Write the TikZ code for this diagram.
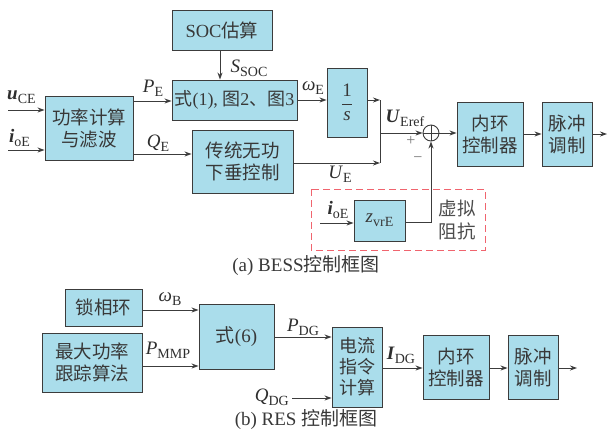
\documentclass[tikz,border=0pt]{standalone}
\usepackage{fontspec}
\setmainfont{Liberation Serif}
\newfontfamily\cjk{Noto Sans CJK SC}
\usetikzlibrary{arrows.meta}
\newcommand\zh[1]{{\cjk #1}}
\newcommand\subtx[1]{\raisebox{-4pt}{\fontsize{14}{14}\selectfont\upshape\mdseries #1}}
\newcommand\vv[2]{\textit{#1}\subtx{#2}}
\newcommand\bv[2]{\textbf{\textit{#1}}\subtx{#2}}
\definecolor{boxfill}{RGB}{170,221,235}
\definecolor{linec}{RGB}{60,60,60}
\definecolor{dashred}{RGB}{240,100,110}
\tikzset{
  blk/.style={draw=linec, line width=0.9pt, fill=boxfill, inner sep=0pt, align=center, font=\fontsize{18.5}{22}\selectfont, text=black!78},
  conn/.style={draw=linec, line width=0.9pt},
  arr/.style={conn, -{Stealth[length=7pt,width=5pt]}},
  lbl/.style={font=\fontsize{19}{22}\selectfont, text=black!82, inner sep=0pt},
  captxt/.style={font=\fontsize{19}{22}\selectfont, text=black!78, inner sep=0pt}
}
\begin{document}
\begin{tikzpicture}[x=1pt,y=-1pt]
\useasboundingbox (0,0) rectangle (609,432);
% top diagram
\node[blk, minimum width=100pt, minimum height=40pt] (soc) at (222,30) {SOC\zh{估算}};
\node[blk, minimum width=125pt, minimum height=40pt, font=\fontsize{18}{22}\selectfont] (eq1) at (234.5,100) {\zh{式}(1), \zh{图}2\zh{、图}3};
\node[blk, minimum width=88pt, minimum height=64pt] (pc) at (89,128) {\zh{功率计算}\\\zh{与滤波}};
\node[blk, minimum width=101pt, minimum height=63pt] (trad) at (242.5,161.5) {\zh{传统无功}\\\zh{下垂控制}};
\node[blk, minimum width=40pt, minimum height=69pt, font=\fontsize{19}{22}\selectfont] (invs) at (347,102.5) {$\displaystyle\frac{\mbox{1}}{\mbox{\itshape s}}$};
\node[draw=linec, line width=0.9pt, fill=white, circle, minimum size=16pt, inner sep=0pt] (sum) at (431,133) {};
\draw[conn] (sum.north) -- (sum.south) (sum.west) -- (sum.east);
\node[blk, minimum width=66pt, minimum height=64pt] (in1) at (490,134) {\zh{内环}\\\zh{控制器}};
\node[blk, minimum width=50pt, minimum height=64pt] (pw1) at (567,134) {\zh{脉冲}\\\zh{调制}};
\node[blk, minimum width=51pt, minimum height=41pt, font=\fontsize{19}{22}\selectfont] (zvr) at (379.5,220.5) {\vv{z}{vrE}};
\draw[dashred, line width=1pt, dash pattern=on 7pt off 4pt] (311,189) rectangle (485,250);
\node[lbl, align=center, font=\fontsize{18.5}{23}\selectfont, text=black!70] (vimp) at (457,220.5) {\zh{虚拟}\\\zh{阻抗}};

\coordinate (uin) at (8,110);
\coordinate (iin) at (8,150);
\draw[arr] (uin) -- (uin -| pc.west);
\draw[arr] (iin) -- (iin -| pc.west);
\coordinate (pe) at (pc.east |- 0,101);
\draw[arr] (pe) -- (pe -| eq1.west);
\coordinate (qe) at (pc.east |- 0,154);
\draw[arr] (qe) -- (qe -| trad.west);
\coordinate (ss) at (220,0);
\draw[arr] (ss |- soc.south) -- (ss |- eq1.north);
\draw[arr] (eq1.east |- 0,100) -- (invs.west |- 0,100);
\coordinate (jt) at (380,100);
\coordinate (jb) at (380,163);
\coordinate (jm) at (380,133);
\draw[arr] (invs.east |- jt) -- (jt);
\draw[arr] (trad.east |- jb) -- (jb);
\draw[conn] (jt) -- (jb);
\draw[arr] (jm) -- (sum.west);
\draw[arr] (sum.east) -- (sum.east -| in1.west);
\draw[arr] (in1.east) -- (pw1.west);
\coordinate (out1) at (607,134);
\draw[arr] (pw1.east) -- (out1);
\coordinate (zc) at (431,222);
\draw[arr] (zvr.east |- zc) -- (zc) -- (sum.south);
\coordinate (zin) at (320,223);
\draw[arr] (zin) -- (zin -| zvr.west);

\node[lbl, anchor=west] (luce) at (7,97) {\bv{u}{CE}};
\node[lbl, anchor=west] (lioe) at (9,138) {\bv{i}{oE}};
\node[lbl] (lpe) at (153,88) {\vv{P}{E}};
\node[lbl] (lqe) at (158,143) {\vv{Q}{E}};
\node[lbl] (lss) at (249,68) {\vv{S}{SOC}};
\node[lbl] (lwe) at (313,88) {\vv{ω}{E}};
\node[lbl] (luer) at (405,118) {\bv{U}{Eref}};
\node[lbl, font=\fontsize{16}{18}\selectfont, text=black!55] (lplus) at (411,141) {+};
\node[lbl, font=\fontsize{16}{18}\selectfont, text=black!55] (lminus) at (418,160) {−};
\node[lbl] (lue) at (340,174) {\vv{U}{E}};
\node[lbl] (lioe2) at (338,210) {\bv{i}{oE}};
\node[captxt] (capa) at (306,266) {(a) BESS\zh{控制框图}};

% bottom diagram
\node[blk, minimum width=77pt, minimum height=37pt] (pll) at (103.5,307.5) {\zh{锁相环}};
\node[blk, minimum width=100pt, minimum height=59pt] (mppt) at (92,362.5) {\zh{最大功率}\\\zh{跟踪算法}};
\node[blk, minimum width=75pt, minimum height=65pt, font=\fontsize{19}{22}\selectfont] (eq6) at (236.5,336.5) {\zh{式}(6)};
\node[blk, minimum width=50pt, minimum height=80pt, font=\fontsize{18}{21}\selectfont] (cur) at (357,367) {\zh{电流}\\\zh{指令}\\\zh{计算}};
\node[blk, minimum width=66pt, minimum height=64pt] (in2) at (456,367) {\zh{内环}\\\zh{控制器}};
\node[blk, minimum width=50pt, minimum height=64pt] (pw2) at (533,367) {\zh{脉冲}\\\zh{调制}};

\draw[arr] (pll.east |- 0,310) -- (eq6.west |- 0,310);
\draw[arr] (mppt.east |- 0,366) -- (eq6.west |- 0,366);
\draw[arr] (eq6.east |- 0,337) -- (cur.west |- 0,337);
\coordinate (qdg) at (292,398);
\draw[arr] (qdg) -- (qdg -| cur.west);
\draw[arr] (cur.east |- 0,368) -- (in2.west |- 0,368);
\draw[arr] (in2.east |- 0,368) -- (pw2.west |- 0,368);
\coordinate (out2) at (577,368);
\draw[arr] (pw2.east |- out2) -- (out2);

\node[lbl] (lwb) at (170,299) {\vv{ω}{B}};
\node[lbl] (lpm) at (168,350) {\vv{P}{MMP}};
\node[lbl] (lpdg) at (303,327) {\vv{P}{DG}};
\node[lbl, anchor=east] (lqdg) at (289,397) {\vv{Q}{DG}};
\node[lbl] (lidg) at (401,355) {\bv{I}{DG}};
\node[captxt] (capb) at (306,420) {(b) RES \zh{控制框图}};
\end{tikzpicture}
\end{document}
